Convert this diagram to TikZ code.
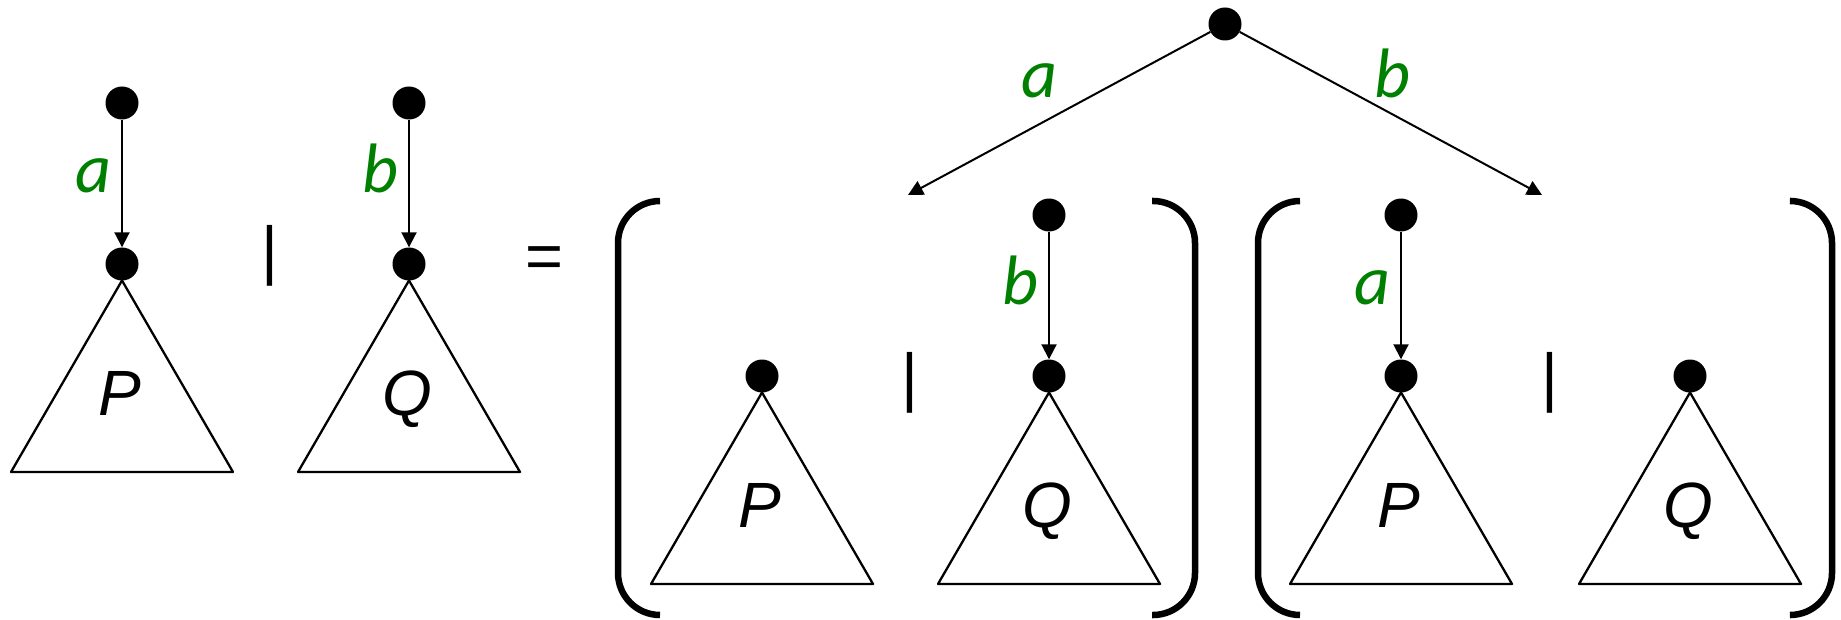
\documentclass[tikz,border=0pt]{standalone}
\usepackage{fontspec}
\setmainfont{Liberation Sans}
\newfontfamily\lblfont{Carlito}
\usetikzlibrary{arrows.meta, positioning}
\definecolor{lblgreen}{RGB}{0,128,0}

\begin{document}
\begin{tikzpicture}[
        x=1pt, y=1pt,
        dot/.style={circle, fill=black, minimum size=33pt, inner sep=0pt},
        arrow/.style={-{Triangle[length=15pt, width=15pt]}, line width=2pt},
        tri/.style={line width=2.3pt, line join=round},
        lbl/.style={font=\lblfont\itshape\fontsize{70}{80}\selectfont, text=lblgreen, inner sep=0pt},
        term/.style={font=\itshape\fontsize{64}{77}\selectfont, inner sep=0pt, anchor=base, xshift=-2},
        op/.style={font=\fontsize{65}{78}\selectfont, inner sep=0pt},
        paren/.style={line width=6.5pt, rounded corners=42pt}
    ]
        \useasboundingbox (0,0) rectangle (1841,-620);

        % left side: a.P | b.Q
        \draw[tri] (122,-280.5) -- ++(-111,-191.5) -- ++(222,0) -- cycle;
        \draw[tri] (409,-280.5) -- ++(-111,-191.5) -- ++(222,0) -- cycle;
        \node[dot] (pa) at (122,-103) {};
        \node[dot] (p) at (122,-264) {};
        \node[dot] (qb) at (409,-103) {};
        \node[dot] (q) at (409,-264) {};
        \node[term] (ptxt) at (122,-415) {P};
        \node[term] (qtxt) at (409,-415) {Q};
        \draw[arrow] (pa) -- (p) node[lbl, pos=.57, anchor=base east, xshift=-10] {a};
        \draw[arrow] (qb) -- (q) node[lbl, pos=.57, anchor=base east, xshift=-10] {b};
        \node[op] (par1) at (270,-255.5) {|};
        \node[op, anchor=base] (eq) at (544,-279) {=};

        % root of the sum
        \node[dot] (root) at (1225,-24) {};
        \coordinate (lend) at (908,-195);
        \coordinate (rend) at (1542,-195);
        \draw[arrow] (root) -- (lend) node[lbl, midway, anchor=base, shift={(-19.5,16.4)}] {a};
        \draw[arrow] (root) -- (rend) node[lbl, midway, anchor=base, shift={(1.3,16.4)}] {b};

        % first branch: ( P | b.Q )
        \draw[paren] (660,-201) -- (618,-201) -- (618,-615) -- (660,-615);
        \draw[paren] (1152,-201) -- (1195,-201) -- (1195,-615) -- (1152,-615);
        \draw[tri] (762,-392.5) -- ++(-111,-191.5) -- ++(222,0) -- cycle;
        \draw[tri] (1049,-392.5) -- ++(-111,-191.5) -- ++(222,0) -- cycle;
        \node[dot] (p1) at (762,-376) {};
        \node[dot] (q1b) at (1049,-215) {};
        \node[dot] (q1) at (1049,-376) {};
        \node[term] (p1txt) at (762,-527) {P};
        \node[term] (q1txt) at (1049,-527) {Q};
        \draw[arrow] (q1b) -- (q1) node[lbl, pos=.57, anchor=base east, xshift=-10] {b};
        \node[op] (par2) at (910,-383) {|};

        % second branch: ( a.P | Q )
        \draw[paren] (1300,-201) -- (1258,-201) -- (1258,-615) -- (1300,-615);
        \draw[paren] (1791,-201) -- (1832,-201) -- (1832,-615) -- (1791,-615);
        \draw[tri] (1401,-392.5) -- ++(-111,-191.5) -- ++(222,0) -- cycle;
        \draw[tri] (1690,-392.5) -- ++(-111,-191.5) -- ++(222,0) -- cycle;
        \node[dot] (p2a) at (1401,-215) {};
        \node[dot] (p2) at (1401,-376) {};
        \node[dot] (q2) at (1690,-376) {};
        \node[term] (p2txt) at (1401,-527) {P};
        \node[term] (q2txt) at (1690,-527) {Q};
        \draw[arrow] (p2a) -- (p2) node[lbl, pos=.57, anchor=base east, xshift=-10] {a};
        \node[op] (par3) at (1550,-383) {|};
    \end{tikzpicture}
\end{document}
